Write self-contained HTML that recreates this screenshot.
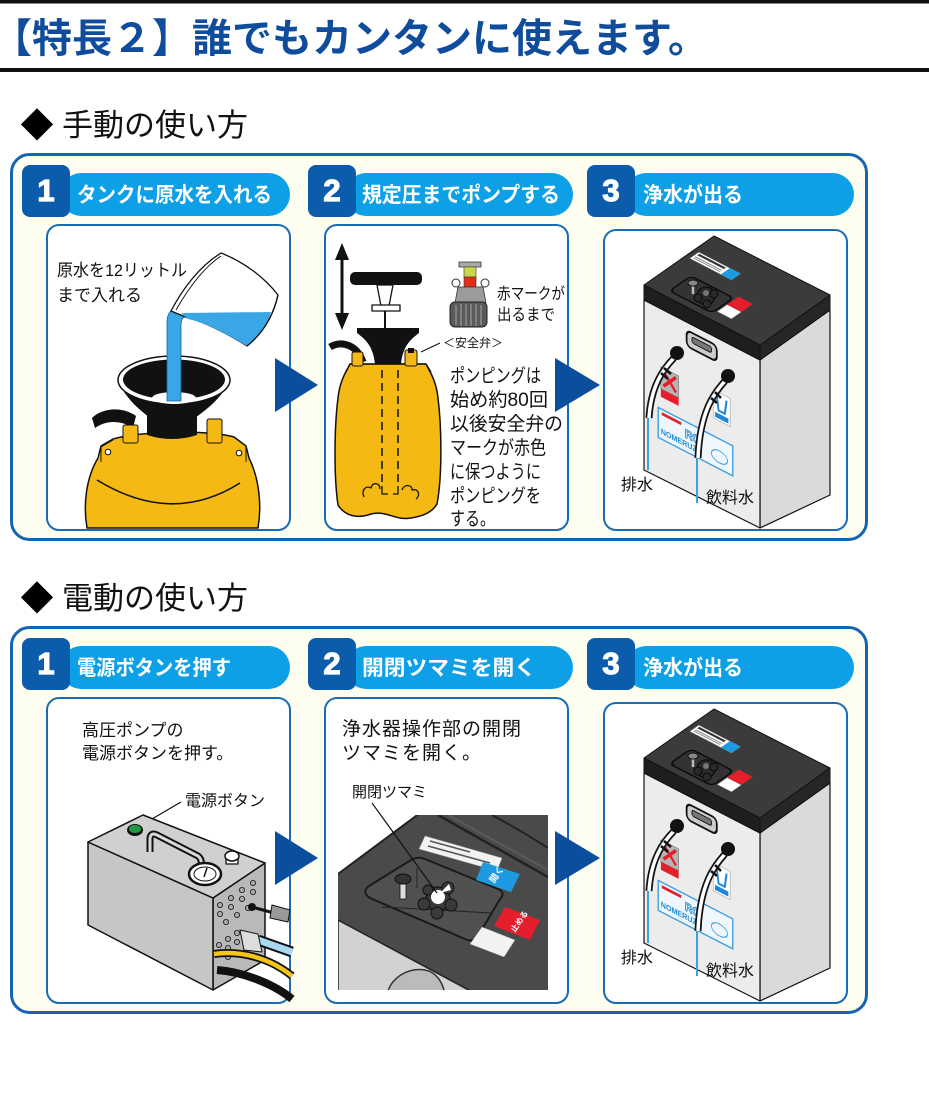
<!DOCTYPE html>
<html lang="ja"><head><meta charset="utf-8"><title>特長2</title>
<style>
html,body{margin:0;padding:0;background:#fff;width:929px;height:1111px;overflow:hidden}
svg{display:block}
text{font-family:"Liberation Sans","Noto Sans CJK JP",sans-serif}
</style></head><body>
<svg width="929" height="1111" viewBox="0 0 929 1111" xmlns="http://www.w3.org/2000/svg">
<defs>
<clipPath id="c2"><rect x="338" y="815" width="210" height="175"/></clipPath>
</defs>
<rect width="929" height="1111" fill="#fff"/>

<!-- Header -->
<rect x="0" y="0" width="929" height="3.5" fill="#111"/>
<rect x="0" y="68" width="929" height="4" fill="#111"/>
<text x="-8" y="52" font-size="40" font-weight="bold" fill="#0f4c9b">【特長２】誰でもカンタンに使えます。</text>

<!-- Section headings -->
<text x="37" y="137" text-anchor="middle" font-size="33" style="font-family:'Noto Sans CJK JP',sans-serif">◆</text>
<text x="62" y="136" font-size="31" fill="#111">手動の使い方</text>
<text x="37" y="610" text-anchor="middle" font-size="33" style="font-family:'Noto Sans CJK JP',sans-serif">◆</text>
<text x="62" y="609" font-size="31" fill="#111">電動の使い方</text>

<!-- ===== Section frames ===== -->
<g id="frame1">
<rect x="11.5" y="154.5" width="855" height="385" rx="18" fill="#fdfdf0" stroke="#1565b0" stroke-width="3"/>
<rect x="60" y="173" width="230" height="43" rx="21.5" fill="#0ea0e6"/>
<rect x="22" y="165" width="48" height="52" rx="8" fill="#0b5dab"/>
<rect x="345" y="173" width="228" height="43" rx="21.5" fill="#0ea0e6"/>
<rect x="308" y="165" width="48" height="52" rx="8" fill="#0b5dab"/>
<rect x="625" y="173" width="229" height="43" rx="21.5" fill="#0ea0e6"/>
<rect x="587" y="165" width="48" height="52" rx="8" fill="#0b5dab"/>
<text x="46" y="201" font-size="31" font-weight="bold" fill="#fff" stroke="#fff" stroke-width="1.2" text-anchor="middle">1</text>
<text x="332" y="201" font-size="31" font-weight="bold" fill="#fff" stroke="#fff" stroke-width="1.2" text-anchor="middle">2</text>
<text x="611" y="201" font-size="31" font-weight="bold" fill="#fff" stroke="#fff" stroke-width="1.2" text-anchor="middle">3</text>
<text x="77" y="202" font-size="21" font-weight="bold" fill="#fff" textLength="195" lengthAdjust="spacingAndGlyphs">タンクに原水を入れる</text>
<text x="362" y="202" font-size="21" font-weight="bold" fill="#fff" textLength="198" lengthAdjust="spacingAndGlyphs">規定圧までポンプする</text>
<text x="643" y="202" font-size="21" font-weight="bold" fill="#fff" textLength="100" lengthAdjust="spacingAndGlyphs">浄水が出る</text>
<rect x="47" y="225" width="243" height="305" rx="12" fill="#fff" stroke="#1a6bb5" stroke-width="2"/>
<rect x="325" y="225" width="243" height="305" rx="12" fill="#fff" stroke="#1a6bb5" stroke-width="2"/>
<rect x="604" y="230" width="243" height="300" rx="12" fill="#fff" stroke="#1a6bb5" stroke-width="2"/>
</g>

<g id="frame2">
<rect x="11.5" y="627.5" width="855" height="385" rx="18" fill="#fdfdf0" stroke="#1565b0" stroke-width="3"/>
<rect x="60" y="646" width="230" height="43" rx="21.5" fill="#0ea0e6"/>
<rect x="22" y="638" width="48" height="52" rx="8" fill="#0b5dab"/>
<rect x="345" y="646" width="228" height="43" rx="21.5" fill="#0ea0e6"/>
<rect x="308" y="638" width="48" height="52" rx="8" fill="#0b5dab"/>
<rect x="625" y="646" width="229" height="43" rx="21.5" fill="#0ea0e6"/>
<rect x="587" y="638" width="48" height="52" rx="8" fill="#0b5dab"/>
<text x="46" y="674" font-size="31" font-weight="bold" fill="#fff" stroke="#fff" stroke-width="1.2" text-anchor="middle">1</text>
<text x="332" y="674" font-size="31" font-weight="bold" fill="#fff" stroke="#fff" stroke-width="1.2" text-anchor="middle">2</text>
<text x="611" y="674" font-size="31" font-weight="bold" fill="#fff" stroke="#fff" stroke-width="1.2" text-anchor="middle">3</text>
<text x="77" y="675" font-size="21" font-weight="bold" fill="#fff" textLength="154" lengthAdjust="spacingAndGlyphs">電源ボタンを押す</text>
<text x="362" y="675" font-size="21" font-weight="bold" fill="#fff" textLength="174" lengthAdjust="spacingAndGlyphs">開閉ツマミを開く</text>
<text x="643" y="675" font-size="21" font-weight="bold" fill="#fff" textLength="100" lengthAdjust="spacingAndGlyphs">浄水が出る</text>
<rect x="47" y="698" width="243" height="305" rx="12" fill="#fff" stroke="#1a6bb5" stroke-width="2"/>
<rect x="325" y="698" width="243" height="305" rx="12" fill="#fff" stroke="#1a6bb5" stroke-width="2"/>
<rect x="604" y="703" width="243" height="300" rx="12" fill="#fff" stroke="#1a6bb5" stroke-width="2"/>
</g>

<!-- ===== S1 Panel 1: tank + funnel + pitcher ===== -->
<g stroke-linejoin="round">
<path d="M92,418 C102,408 122,406 136,416 L133,428 C121,420 106,420 95,428 Z" fill="#111"/>
<path d="M87,528 C83,505 86,478 98,458 L101,446 L113,439 C140,431 208,430 234,437 L246,446 L249,458 C259,478 262,505 258,528 Z" fill="#f5b914" stroke="#111" stroke-width="1.5"/>
<path d="M101,462 L101,447 L113,440 M246,462 L246,447" stroke="#111" fill="none"/>
<circle cx="108" cy="452" r="2.8" fill="#fff" stroke="#111"/>
<circle cx="239" cy="453" r="2.8" fill="#fff" stroke="#111"/>
<path d="M97,480 Q172,526 240,483" fill="none" stroke="#111" stroke-width="1.6"/>
<rect x="123" y="425" width="15" height="18" rx="2" fill="#f5b914" stroke="#111"/>
<rect x="207" y="419" width="15" height="24" rx="2" fill="#f5b914" stroke="#111"/>
<path d="M147,410 L147,435 Q172,443 197,435 L197,410 Z" fill="#111"/>
<path d="M119,383 C128,402 143,412 150,418 L195,418 C203,412 218,402 229,383 Z" fill="#111"/>
<ellipse cx="174" cy="380" rx="56" ry="24" fill="#fff" stroke="#111" stroke-width="1.5"/>
<ellipse cx="174" cy="379.5" rx="51" ry="20" fill="#111"/>
<ellipse cx="174" cy="398" rx="22" ry="6" fill="#fff"/>
<path d="M167,401 L167,322 C167,311 174,305 186,305 L195,305 L196,314 L186,316 C183,317 181,320 181,325 L181,401 Z" fill="#39a6e6" stroke="#1d5f9a" stroke-width="0.8"/>
<path d="M171,311 C183,288 200,266 221,253 C244,262 264,277 278,295 C273,317 262,334 247,346 C230,335 205,322 188,318 Z" fill="#fff" stroke="#111" stroke-width="1.3"/>
<path d="M181,313 L271,312 C267,326 258,338 247,346 C230,336 205,322 188,319 Z" fill="#39a6e6"/>
<path d="M176,310 C188,289 203,268 221,256" fill="none" stroke="#111" stroke-width="1"/>
<path d="M247,346 C262,334 273,317 278,295" fill="none" stroke="#111" stroke-width="1.3"/>
</g>
<text x="57" y="276" font-size="17" fill="#111" textLength="130" lengthAdjust="spacingAndGlyphs">原水を12リットル</text>
<text x="57" y="301" font-size="17" fill="#111">まで入れる</text>

<!-- ===== S1 Panel 2: pump ===== -->
<g stroke-linejoin="round">
<line x1="342" y1="255" x2="342" y2="318" stroke="#111" stroke-width="3"/>
<polygon points="342,243 335,260 349,260" fill="#111"/>
<polygon points="342,330 335,313 349,313" fill="#111"/>
<path d="M330,347 C342,340 357,345 363,362" fill="none" stroke="#111" stroke-width="7"/>
<path d="M350,364 C346,372 340,380 338,398 C334,430 334,478 338,505 C345,516 357,519 371,514 C386,510 396,521 411,518 C425,516 433,511 437,504 C442,478 442,430 438,398 C436,380 430,372 426,364 Z" fill="#f5b914" stroke="#111" stroke-width="1.5"/>
<path d="M346,372 L350,364 L426,364 L431,372" fill="none" stroke="#111" stroke-width="1.2"/>
<rect x="352" y="352" width="11" height="14" rx="2" fill="#f5b914" stroke="#111"/>
<rect x="405" y="350" width="12" height="16" rx="2" fill="#f5b914" stroke="#111"/>
<rect x="408" y="348" width="6" height="5" fill="#111"/>
<path d="M357,328 L419,328 L419,333 C410,340 403,346 401,364 L375,364 C373,346 366,340 357,333 Z" fill="#111"/>
<rect x="350" y="272" width="72" height="13" rx="5" fill="#111"/>
<path d="M377,285 L381,306 L389,306 L393,285 Z" fill="#fff" stroke="#111" stroke-width="1.3"/>
<rect x="372" y="305" width="28" height="6" fill="#fff" stroke="#111" stroke-width="1.3"/>
<line x1="385" y1="311" x2="385" y2="329" stroke="#111" stroke-width="2"/>
<path d="M382,370 L382,485 M398,370 L398,485" stroke="#111" stroke-width="1.5" stroke-dasharray="8,5"/>
<path d="M382,486 L382,494 L388,494 M398,486 L398,494 L393,494" fill="none" stroke="#111" stroke-width="1.3"/>
<path d="M364,497 c-3,-7 2,-12 7,-9 c1,-6 9,-6 9,1 M402,490 c2,-6 10,-6 10,0 c6,-2 9,5 4,9" fill="none" stroke="#111" stroke-width="1.3"/>
<!-- safety valve -->
<rect x="459" y="262" width="22" height="5" fill="#aaa" stroke="#333" stroke-width="0.8"/>
<rect x="464" y="267" width="12" height="10" fill="#c9d84a" stroke="#333" stroke-width="0.6"/>
<rect x="464" y="277" width="12" height="10" fill="#e52b1a" stroke="#333" stroke-width="0.6"/>
<circle cx="456" cy="283" r="4" fill="#fff" stroke="#333"/>
<circle cx="485" cy="283" r="4" fill="#fff" stroke="#333"/>
<path d="M458,287 L483,287 L486,303 L455,303 Z" fill="#9b9b9b" stroke="#333" stroke-width="0.8"/>
<rect x="450" y="302" width="37" height="25" rx="5" fill="#5a5a5a" stroke="#222"/>
<path d="M456,305 V325 M461,304 V326 M466,304 V326 M471,304 V326 M476,304 V326 M481,305 V325" stroke="#999" stroke-width="1.2"/>
<line x1="421" y1="352" x2="440" y2="343" stroke="#111" stroke-width="1"/>
</g>
<text x="497" y="299" font-size="16" fill="#111" textLength="68" lengthAdjust="spacingAndGlyphs">赤マークが</text>
<text x="497" y="320" font-size="16" fill="#111" textLength="58" lengthAdjust="spacingAndGlyphs">出るまで</text>
<text x="443" y="347" font-size="12" fill="#111">＜安全弁＞</text>
<text x="450" y="382" font-size="19" fill="#111" textLength="91" lengthAdjust="spacingAndGlyphs">ポンピングは</text>
<text x="450" y="406" font-size="19" fill="#111" textLength="98" lengthAdjust="spacingAndGlyphs">始め約80回</text>
<text x="450" y="430" font-size="19" fill="#111" textLength="113" lengthAdjust="spacingAndGlyphs">以後安全弁の</text>
<text x="450" y="454" font-size="19" fill="#111" textLength="96" lengthAdjust="spacingAndGlyphs">マークが赤色</text>
<text x="450" y="478" font-size="19" fill="#111" textLength="91" lengthAdjust="spacingAndGlyphs">に保つように</text>
<text x="450" y="502" font-size="19" fill="#111" textLength="91" lengthAdjust="spacingAndGlyphs">ポンピングを</text>
<text x="450" y="525" font-size="19" fill="#111" textLength="45" lengthAdjust="spacingAndGlyphs">する。</text>

<!-- ===== RO box (section 1) ===== -->
<g id="ro1" stroke-linejoin="round">
<polygon points="760,360 830,310 830,495 760,528" fill="#dadada" stroke="#111" stroke-width="1.2"/>
<polygon points="644,300 760,360 760,528 644,470" fill="#ececec" stroke="#111" stroke-width="1.2"/>
<polygon points="644,285 760,345 760,360 644,300" fill="#1e1e1e" stroke="#111"/>
<polygon points="760,345 830,295 830,310 760,360" fill="#262626" stroke="#111"/>
<polygon points="644,285 714,236 830,295 760,345" fill="#3b3b3b" stroke="#111"/>
<g transform="matrix(0.888,0.459,-0.82,0.574,714,236)">
<rect x="5" y="24" width="47" height="11" fill="#fff" stroke="#777" stroke-width="0.5"/>
<rect x="7" y="25.5" width="30" height="2.5" fill="#333"/>
<rect x="7" y="30" width="30" height="1" fill="#777"/>
<rect x="7" y="32" width="30" height="1" fill="#777"/>
<rect x="40" y="24" width="12" height="11" fill="#1e9be0"/>
<rect x="22" y="52" width="48" height="26" rx="5" fill="#333" stroke="#0a0a0a" stroke-width="1.6"/>
<rect x="72" y="48" width="16" height="14" fill="#e41e2a"/>
<rect x="72" y="62" width="16" height="12" fill="#fff" stroke="#777" stroke-width="0.5"/>
</g>
<circle cx="706" cy="296" r="9" fill="#2a2a2a" stroke="#0a0a0a" stroke-width="1.2"/>
<circle cx="698" cy="298" r="4" fill="#2a2a2a" stroke="#0a0a0a"/>
<circle cx="714" cy="294" r="4" fill="#2a2a2a" stroke="#0a0a0a"/>
<circle cx="707" cy="304" r="4" fill="#2a2a2a" stroke="#0a0a0a"/>
<circle cx="706" cy="293" r="3" fill="#777"/>
<line x1="693" y1="284" x2="693" y2="294" stroke="#bbb" stroke-width="2.5"/>
<ellipse cx="693" cy="283" rx="5" ry="3" fill="#888" stroke="#111"/>
<g transform="matrix(0.888,0.459,0,1,644,300)">
<rect x="48" y="8" width="34" height="16" rx="5" fill="#ccc" stroke="#111" stroke-width="2"/>
<rect x="54" y="12" width="22" height="6" rx="2" fill="#777" stroke="#111"/>
<rect x="19" y="58" width="20" height="22" fill="#b5b5b5" stroke="#555" stroke-width="0.5"/>
<path d="M22,61 L36,76 M36,61 L22,76" stroke="#e41e2a" stroke-width="3"/>
<rect x="19" y="80" width="20" height="8" fill="#e41e2a"/>
<rect x="78" y="54" width="19" height="28" fill="#fff" stroke="#888" stroke-width="0.5"/>
<path d="M82,58 L84,72 L91,72 L93,58" fill="none" stroke="#1e88d8" stroke-width="2.2"/>
<rect x="80" y="75" width="15" height="5" fill="#1e88d8"/>
<rect x="16" y="100" width="84" height="30" fill="#eef7fd" stroke="#3a9be0" stroke-width="1.5"/>
<rect x="20" y="103" width="22" height="3" fill="#e41e2a"/>
<text x="46" y="116" font-size="12" font-weight="bold" fill="none" stroke="#1e88d8" stroke-width="0.9">RO</text>
<text x="19" y="125" font-size="8" font-weight="bold" fill="#1e88d8">NOMERUZO</text>
<ellipse cx="85" cy="118" rx="9" ry="6" fill="none" stroke="#3a9be0"/>
</g>
<path d="M674,358 C664,368 651,385 649,418" fill="none" stroke="#111" stroke-width="7"/>
<path d="M674,358 C664,368 651,385 649,418" fill="none" stroke="#fff" stroke-width="3.5"/>
<path d="M725,381 C715,392 700,410 698,458" fill="none" stroke="#111" stroke-width="7"/>
<path d="M725,381 C715,392 700,410 698,458" fill="none" stroke="#fff" stroke-width="3.5"/>
<circle cx="677" cy="353" r="7" fill="#111"/>
<circle cx="728" cy="376" r="7" fill="#111"/>
<path d="M664,368 L671,374 M661,373 L668,379 M715,392 L721,398 M711,398 L717,403" stroke="#111" stroke-width="2.5"/>
<line x1="648" y1="418" x2="648" y2="470" stroke="#3aa3e2" stroke-width="2"/>
<line x1="697" y1="458" x2="697" y2="503" stroke="#3aa3e2" stroke-width="2"/>
</g>
<text x="621" y="490" font-size="16" fill="#111">排水</text>
<text x="706" y="503" font-size="16" fill="#111">飲料水</text>

<!-- ===== RO box (section 2) ===== -->
<g id="ro2" stroke-linejoin="round" transform="translate(0,473)">
<polygon points="760,360 830,310 830,495 760,528" fill="#dadada" stroke="#111" stroke-width="1.2"/>
<polygon points="644,300 760,360 760,528 644,470" fill="#ececec" stroke="#111" stroke-width="1.2"/>
<polygon points="644,285 760,345 760,360 644,300" fill="#1e1e1e" stroke="#111"/>
<polygon points="760,345 830,295 830,310 760,360" fill="#262626" stroke="#111"/>
<polygon points="644,285 714,236 830,295 760,345" fill="#3b3b3b" stroke="#111"/>
<g transform="matrix(0.888,0.459,-0.82,0.574,714,236)">
<rect x="5" y="24" width="47" height="11" fill="#fff" stroke="#777" stroke-width="0.5"/>
<rect x="7" y="25.5" width="30" height="2.5" fill="#333"/>
<rect x="7" y="30" width="30" height="1" fill="#777"/>
<rect x="7" y="32" width="30" height="1" fill="#777"/>
<rect x="40" y="24" width="12" height="11" fill="#1e9be0"/>
<rect x="22" y="52" width="48" height="26" rx="5" fill="#333" stroke="#0a0a0a" stroke-width="1.6"/>
<rect x="72" y="48" width="16" height="14" fill="#e41e2a"/>
<rect x="72" y="62" width="16" height="12" fill="#fff" stroke="#777" stroke-width="0.5"/>
</g>
<circle cx="706" cy="296" r="9" fill="#2a2a2a" stroke="#0a0a0a" stroke-width="1.2"/>
<circle cx="698" cy="298" r="4" fill="#2a2a2a" stroke="#0a0a0a"/>
<circle cx="714" cy="294" r="4" fill="#2a2a2a" stroke="#0a0a0a"/>
<circle cx="707" cy="304" r="4" fill="#2a2a2a" stroke="#0a0a0a"/>
<circle cx="706" cy="293" r="3" fill="#777"/>
<line x1="693" y1="284" x2="693" y2="294" stroke="#bbb" stroke-width="2.5"/>
<ellipse cx="693" cy="283" rx="5" ry="3" fill="#888" stroke="#111"/>
<g transform="matrix(0.888,0.459,0,1,644,300)">
<rect x="48" y="8" width="34" height="16" rx="5" fill="#ccc" stroke="#111" stroke-width="2"/>
<rect x="54" y="12" width="22" height="6" rx="2" fill="#777" stroke="#111"/>
<rect x="19" y="58" width="20" height="22" fill="#b5b5b5" stroke="#555" stroke-width="0.5"/>
<path d="M22,61 L36,76 M36,61 L22,76" stroke="#e41e2a" stroke-width="3"/>
<rect x="19" y="80" width="20" height="8" fill="#e41e2a"/>
<rect x="78" y="54" width="19" height="28" fill="#fff" stroke="#888" stroke-width="0.5"/>
<path d="M82,58 L84,72 L91,72 L93,58" fill="none" stroke="#1e88d8" stroke-width="2.2"/>
<rect x="80" y="75" width="15" height="5" fill="#1e88d8"/>
<rect x="16" y="100" width="84" height="30" fill="#eef7fd" stroke="#3a9be0" stroke-width="1.5"/>
<rect x="20" y="103" width="22" height="3" fill="#e41e2a"/>
<text x="46" y="116" font-size="12" font-weight="bold" fill="none" stroke="#1e88d8" stroke-width="0.9">RO</text>
<text x="19" y="125" font-size="8" font-weight="bold" fill="#1e88d8">NOMERUZO</text>
<ellipse cx="85" cy="118" rx="9" ry="6" fill="none" stroke="#3a9be0"/>
</g>
<path d="M674,358 C664,368 651,385 649,418" fill="none" stroke="#111" stroke-width="7"/>
<path d="M674,358 C664,368 651,385 649,418" fill="none" stroke="#fff" stroke-width="3.5"/>
<path d="M725,381 C715,392 700,410 698,458" fill="none" stroke="#111" stroke-width="7"/>
<path d="M725,381 C715,392 700,410 698,458" fill="none" stroke="#fff" stroke-width="3.5"/>
<circle cx="677" cy="353" r="7" fill="#111"/>
<circle cx="728" cy="376" r="7" fill="#111"/>
<path d="M664,368 L671,374 M661,373 L668,379 M715,392 L721,398 M711,398 L717,403" stroke="#111" stroke-width="2.5"/>
<line x1="648" y1="418" x2="648" y2="470" stroke="#3aa3e2" stroke-width="2"/>
<line x1="697" y1="458" x2="697" y2="503" stroke="#3aa3e2" stroke-width="2"/>
</g>
<text x="621" y="963" font-size="16" fill="#111">排水</text>
<text x="706" y="976" font-size="16" fill="#111">飲料水</text>

<!-- ===== S2 Panel 1: pump box ===== -->
<text x="82" y="736" font-size="17" fill="#111">高圧ポンプの</text>
<text x="82" y="759" font-size="17" fill="#111">電源ボタンを押す。</text>
<text x="185" y="806" font-size="16" fill="#111">電源ボタン</text>
<g stroke-linejoin="round">
<line x1="140" y1="826" x2="181" y2="802" stroke="#111" stroke-width="1.2"/>
<polygon points="213,898 265,863 265,960 213,990" fill="#b9b9b9" stroke="#111" stroke-width="1.5"/>
<polygon points="88,842 213,898 213,990 88,925" fill="#c6c6c6" stroke="#111" stroke-width="1.5"/>
<polygon points="88,842 143,815 265,863 213,898" fill="#d0d0d0" stroke="#111" stroke-width="1.5"/>
<ellipse cx="135" cy="830" rx="8" ry="6" fill="#111"/>
<ellipse cx="135" cy="829" rx="6" ry="4" fill="#1f9a45"/>
<path d="M150,852 L150,838 Q151,832 157,835 L198,856 Q202,859 201,864 L200,870" fill="none" stroke="#111" stroke-width="7"/>
<path d="M150,852 L150,838 Q151,832 157,835 L198,856 Q202,859 201,864 L200,870" fill="none" stroke="#d8d8d8" stroke-width="3"/>
<ellipse cx="205" cy="874" rx="16" ry="11" fill="#fff" stroke="#111" stroke-width="2.5"/>
<ellipse cx="205" cy="874" rx="11" ry="7" fill="none" stroke="#111" stroke-width="1"/>
<line x1="204" y1="877" x2="207" y2="868" stroke="#111" stroke-width="1.5"/>
<rect x="226" y="856" width="12" height="8" fill="#fff" stroke="#111" stroke-width="1.3"/>
<ellipse cx="232" cy="856" rx="7" ry="5" fill="#fff" stroke="#111" stroke-width="1.5"/>
<g fill="#aaa" stroke="#111" stroke-width="0.8">
<circle cx="220" cy="905" r="2.6"/><circle cx="231" cy="898" r="2.6"/><circle cx="242" cy="890" r="2.6"/><circle cx="253" cy="883" r="2.6"/>
<circle cx="220" cy="914" r="2.6"/><circle cx="231" cy="907" r="2.6"/><circle cx="242" cy="899" r="2.6"/><circle cx="253" cy="892" r="2.6"/>
<circle cx="226" cy="922" r="2.6"/><circle cx="237" cy="915" r="2.6"/><circle cx="248" cy="908" r="2.6"/>
<circle cx="219" cy="945" r="2.6"/><circle cx="228" cy="939" r="2.6"/><circle cx="237" cy="933" r="2.6"/>
<circle cx="219" cy="954" r="2.6"/><circle cx="228" cy="948" r="2.6"/><circle cx="237" cy="942" r="2.6"/>
<circle cx="228" cy="957" r="2.6"/>
</g>
<circle cx="252" cy="907" r="4" fill="#111"/>
<line x1="252" y1="907" x2="274" y2="913" stroke="#111" stroke-width="3"/>
<polygon points="272,905 290,910 288,922 270,918" fill="#999" stroke="#111"/>
<path d="M258,940 L292,952" stroke="#111" stroke-width="11"/>
<path d="M258,940 L292,952" stroke="#a9d8f2" stroke-width="7"/>
<polygon points="240,930 258,934 262,952 244,950" fill="#ddd" stroke="#111"/>
<path d="M214,954 C240,950 270,958 292,976" fill="none" stroke="#111" stroke-width="8"/>
<path d="M214,954 C240,950 270,958 292,976" fill="none" stroke="#f5c518" stroke-width="4.5"/>
<path d="M217,970 C245,972 275,985 292,999" fill="none" stroke="#111" stroke-width="8"/>
</g>

<!-- ===== S2 Panel 2: control panel ===== -->
<text x="342" y="735" font-size="19" fill="#111" letter-spacing="1">浄水器操作部の開閉</text>
<text x="342" y="759" font-size="19" fill="#111" letter-spacing="1">ツマミを開く。</text>
<text x="352" y="797" font-size="15" fill="#111">開閉ツマミ</text>
<g clip-path="url(#c2)" stroke-linejoin="round">
<rect x="338" y="815" width="210" height="175" fill="#4a4a4a"/>
<polygon points="338,813 420,813 338,874" fill="#fff"/>
<line x1="338" y1="874" x2="420" y2="813" stroke="#222" stroke-width="2"/>
<polygon points="338,920 478,995 338,995" fill="#d2d2d2" stroke="#222" stroke-width="1.5"/>
<path d="M387,995 C390,978 408,967 425,970 C436,972 443,982 445,995" fill="#bbb" stroke="#333" stroke-width="1.5"/>
<path d="M438,815 L548,877" fill="none" stroke="#222" stroke-width="2.5"/>
<path d="M448,815 L548,870" fill="none" stroke="#5a5a5a" stroke-width="2"/>
<path d="M492,815 Q525,833 548,848" fill="none" stroke="#222" stroke-width="2"/>
<path d="M369,886 L411,860 Q418,856 425,859 L498,889 Q506,893 500,899 L478,936 Q473,943 465,939 L370,898 Q361,892 369,886 Z" fill="#505050" stroke="#1a1a1a" stroke-width="2"/>
<line x1="382" y1="907" x2="492" y2="913" stroke="#222" stroke-width="1"/>
<line x1="417" y1="868" x2="417" y2="888" stroke="#222" stroke-width="1"/>
<polygon points="425,836 502,858 497,871 419,849" fill="#f2f2f2" stroke="#999" stroke-width="0.5"/>
<path d="M430,841 L470,852 M428,846 L490,863" stroke="#555" stroke-width="1.5"/>
<polygon points="483,862 520,874 511,892 476,880" fill="#1e9be0"/>
<text x="489" y="882" font-size="9" font-weight="bold" fill="#fff" transform="rotate(-55 493 878)">開く</text>
<polygon points="505,907 540,920 530,940 494,926" fill="#e41e2a"/>
<text x="508" y="928" font-size="8" font-weight="bold" fill="#fff" transform="rotate(-55 516 924)">止める</text>
<polygon points="482,927 515,940 504,957 470,944" fill="#f2f2f2" stroke="#999" stroke-width="0.5"/>
<circle cx="438" cy="899" r="12" fill="#3a3a3a" stroke="#111" stroke-width="1.2"/>
<circle cx="424" cy="904" r="6" fill="#3a3a3a" stroke="#111"/>
<circle cx="451" cy="905" r="6" fill="#3a3a3a" stroke="#111"/>
<circle cx="437" cy="913" r="6" fill="#3a3a3a" stroke="#111"/>
<circle cx="448" cy="888" r="6" fill="#3a3a3a" stroke="#111"/>
<circle cx="428" cy="890" r="5" fill="#3a3a3a" stroke="#111"/>
<circle cx="438" cy="897" r="7" fill="#fff"/>
<polygon points="440,893 449,884 451,890" fill="#fff"/>
<rect x="400" y="882" width="6" height="17" fill="#ddd" stroke="#111" stroke-width="0.8"/>
<ellipse cx="403" cy="879" rx="8" ry="5" fill="#333" stroke="#111"/>
</g>
<line x1="372" y1="803" x2="437" y2="893" stroke="#111" stroke-width="1.2"/>

<!-- ===== Arrows ===== -->
<polygon points="275,358 318,385 275,412" fill="#0c4e9e"/>
<polygon points="555,358 600,385 555,412" fill="#0c4e9e"/>
<polygon points="275,831 318,858 275,885" fill="#0c4e9e"/>
<polygon points="555,831 600,858 555,885" fill="#0c4e9e"/>
</svg>
</body></html>
